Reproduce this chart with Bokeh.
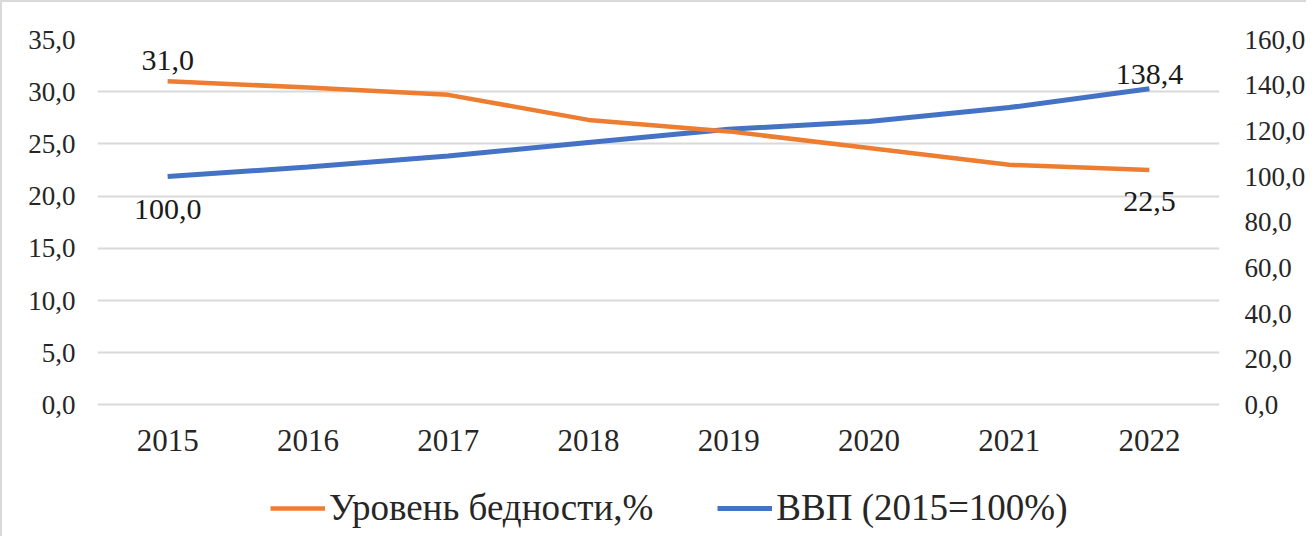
from bokeh.plotting import figure
from bokeh.models import (Range1d, LinearAxis, ColumnDataSource, Legend, LegendItem,
                          CustomJSTickFormatter, FixedTicker)
from bokeh.core.properties import value
from bokeh.embed import file_html
from bokeh.resources import INLINE

years = ["2015", "2016", "2017", "2018", "2019", "2020", "2021", "2022"]
poverty = [31.0, 30.4, 29.7, 27.3, 26.2, 24.6, 23.0, 22.5]
gdp = [100.0, 104.2, 109.0, 114.9, 120.7, 124.1, 130.2, 138.4]
left_ticks = [0, 5, 10, 15, 20, 25, 30, 35]
right_ticks = [0, 20, 40, 60, 80, 100, 120, 140, 160]
poverty_label = "Уровень бедности,%"
gdp_label = "ВВП (2015=100%)"

ORANGE = "#ED7D31"
BLUE = "#4472C4"
FONT = "Liberation Serif"
TXT = "#262626"

# layout: the frame runs down to the bottom edge so that the legend (drawn inside it)
# can sit under the x-axis, which is pinned at y = 0.
W, H = 1306, 536
BORDER = 2
TOP, LEFT, RIGHT = 37, 95, 82
ZERO_Y = 403          # pixel row of the 0 gridline
PX_PER_UNIT = (ZERO_Y - (TOP + BORDER)) / left_ticks[-1]
y_low = -((H - ZERO_Y) / PX_PER_UNIT)
left_max = left_ticks[-1]
right_max = right_ticks[-1]

p = figure(x_range=years, y_range=Range1d(y_low, left_max), width=W, height=H,
           output_backend="svg", toolbar_location=None,
           min_border_left=LEFT, min_border_right=RIGHT, min_border_top=TOP, min_border_bottom=0)
p.extra_y_ranges = {"right": Range1d(y_low * right_max / left_max, right_max)}
p.outline_line_color = None
p.background_fill_color = "white"
p.border_fill_color = "white"
p.styles = {"border-top": f"{BORDER}px solid #d9d9d9", "border-left": f"{BORDER}px solid #d9d9d9",
            "box-sizing": "border-box"}

fmt = CustomJSTickFormatter(code="return tick.toFixed(1).replace('.', ',');")

p.yaxis.ticker = FixedTicker(ticks=left_ticks)
p.yaxis.formatter = fmt
right = LinearAxis(y_range_name="right", ticker=FixedTicker(ticks=right_ticks), formatter=fmt)
p.add_layout(right, "right")

for ax in [p.yaxis[0], right]:
    ax.axis_line_color = None
    ax.major_tick_line_color = None
    ax.minor_tick_line_color = None
    ax.major_tick_out = 0
    ax.major_tick_in = 0
    ax.minor_tick_out = 0
    ax.major_label_text_font = FONT
    ax.major_label_text_font_size = "27px"
    ax.major_label_text_color = TXT
    ax.major_label_standoff = 22
right.major_label_standoff = 25

xa = p.xaxis[0]
xa.fixed_location = 0
xa.axis_line_color = None
xa.major_tick_line_color = None
xa.major_tick_out = 0
xa.major_tick_in = 0
xa.major_label_text_font = FONT
xa.major_label_text_font_size = "31px"
xa.major_label_text_color = TXT
xa.major_label_standoff = 25

p.xgrid.grid_line_color = None
p.ygrid.grid_line_color = "#d9d9d9"
p.ygrid.grid_line_width = 2
p.ygrid.bounds = (0, left_max)

src = ColumnDataSource(dict(x=years, pov=poverty, gdp=gdp))

r_gdp = p.line("x", "gdp", source=src, y_range_name="right", line_color=BLUE, line_width=5)
r_pov = p.line("x", "pov", source=src, line_color=ORANGE, line_width=4.5)

# data labels (first and last points)
first_last = ColumnDataSource(dict(
    x=[years[0], years[-1]],
    pov=[poverty[0], poverty[-1]],
    gdp=[gdp[0], gdp[-1]],
    pov_t=[f"{poverty[0]:.1f}".replace(".", ","), f"{poverty[-1]:.1f}".replace(".", ",")],
    gdp_t=[f"{gdp[0]:.1f}".replace(".", ","), f"{gdp[-1]:.1f}".replace(".", ",")],
    pov_off=[-11, 22],
    gdp_off=[23, -5],
    pov_base=["bottom", "top"],
    gdp_base=["top", "bottom"],
))
p.text("x", "pov", text="pov_t", source=first_last, y_offset="pov_off",
       text_align="center", text_baseline="pov_base", text_font=value(FONT),
       text_font_size="30px", text_color="#1a1a1a")
p.text("x", "gdp", text="gdp_t", source=first_last, y_offset="gdp_off", y_range_name="right",
       text_align="center", text_baseline="gdp_base", text_font=value(FONT),
       text_font_size="30px", text_color="#1a1a1a")

legend = Legend(items=[LegendItem(label=poverty_label, renderers=[r_pov]),
                       LegendItem(label=gdp_label, renderers=[r_gdp])],
                orientation="horizontal", location=(173, 9),
                label_text_font=FONT, label_text_font_size="37px", label_text_color=TXT,
                glyph_width=55, glyph_height=30, label_standoff=4, spacing=64,
                border_line_color=None, background_fill_alpha=0, padding=4, margin=0)
p.add_layout(legend, "center")

open("out.html", "w").write(file_html(p, INLINE))
